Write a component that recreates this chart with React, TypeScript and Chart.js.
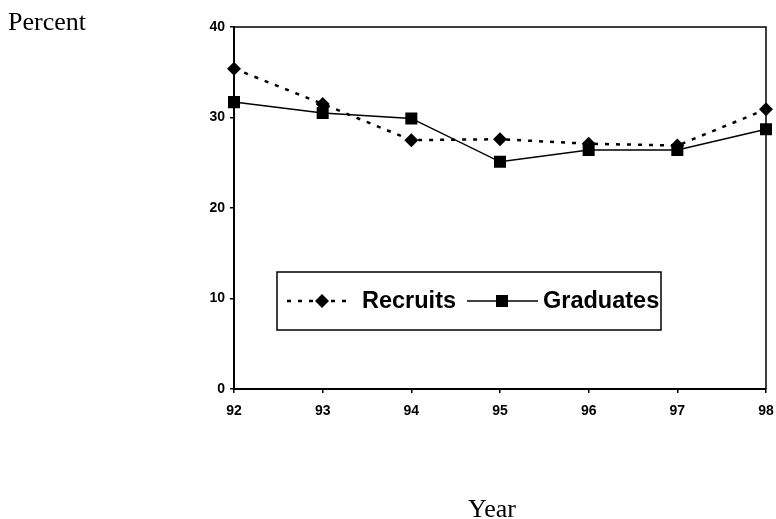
import React, { useEffect, useRef } from "react";
import { Chart, registerables } from "chart.js";

Chart.register(...registerables);

// Share of recruits vs. graduates, by year (percent)
const years = ["92", "93", "94", "95", "96", "97", "98"];
const recruits = [35.4, 31.5, 27.5, 27.6, 27.1, 26.9, 30.9];
const graduates = [31.7, 30.5, 29.9, 25.1, 26.4, 26.4, 28.7];
const yTickValues = [0, 10, 20, 30, 40];

const yAxisTitle = "Percent";
const xAxisTitle = "Year";

const TICK_FONT = { family: "'Liberation Sans', Arial, sans-serif", size: 14, weight: "bold" as const };

// Frame on the top and right sides of the plot area
const framePlugin = {
  id: "frame",
  afterDatasetsDraw(chart: any) {
    const { ctx, chartArea: a } = chart;
    ctx.save();
    ctx.strokeStyle = "#000";
    ctx.lineWidth = 1.5;
    ctx.beginPath();
    ctx.moveTo(a.left, a.top);
    ctx.lineTo(a.right, a.top);
    ctx.lineTo(a.right, a.bottom);
    ctx.stroke();
    ctx.restore();
  },
};

// Boxed legend inside the plot, plus the serif axis titles
const legendPlugin = {
  id: "boxedLegend",
  afterDraw(chart: any) {
    const { ctx } = chart;
    const ds = chart.data.datasets;
    ctx.save();

    // box
    const bx = 277, by = 272, bw = 384, bh = 58;
    ctx.fillStyle = "#fff";
    ctx.fillRect(bx, by, bw, bh);
    ctx.strokeStyle = "#000";
    ctx.lineWidth = 1.5;
    ctx.strokeRect(bx, by, bw, bh);

    const cy = by + bh / 2;
    ctx.font = "bold 23.5px 'Liberation Sans', Arial, sans-serif";
    ctx.textBaseline = "middle";
    ctx.textAlign = "left";
    ctx.fillStyle = "#000";

    // Recruits entry: dotted line + diamond
    const rec = ds.find((d: any) => d.label === "Recruits");
    ctx.strokeStyle = "#000";
    ctx.lineWidth = 2.5;
    ctx.setLineDash(rec.borderDash);
    ctx.beginPath();
    ctx.moveTo(287, cy);
    ctx.lineTo(352, cy);
    ctx.stroke();
    ctx.setLineDash([]);
    ctx.beginPath();
    ctx.moveTo(322, cy - 7);
    ctx.lineTo(329, cy);
    ctx.lineTo(322, cy + 7);
    ctx.lineTo(315, cy);
    ctx.closePath();
    ctx.fill();
    ctx.fillText(rec.label, 362, cy + 1);

    // Graduates entry: solid line + square
    const grad = ds.find((d: any) => d.label === "Graduates");
    ctx.lineWidth = 1.5;
    ctx.beginPath();
    ctx.moveTo(467, cy);
    ctx.lineTo(538, cy);
    ctx.stroke();
    ctx.fillRect(496, cy - 6, 12, 12);
    ctx.fillText(grad.label, 543, cy + 1);

    // axis titles
    ctx.font = "26px 'Liberation Serif', 'Times New Roman', serif";
    ctx.textBaseline = "alphabetic";
    ctx.fillText(yAxisTitle, 8, 30);
    ctx.textAlign = "center";
    ctx.fillText(xAxisTitle, 492, 517);

    ctx.restore();
  },
};

export default function App() {
  const canvasRef = useRef<HTMLCanvasElement | null>(null);

  useEffect(() => {
    const canvas = canvasRef.current;
    if (!canvas) return;
    const chart = new Chart(canvas, {
      type: "line",
      data: {
        labels: years,
        datasets: [
          {
            label: "Recruits",
            data: recruits,
            borderColor: "#000",
            backgroundColor: "#000",
            borderWidth: 2.5,
            borderDash: [4, 7],
            pointStyle: "rectRot",
            pointRadius: 7,
            pointBorderWidth: 0,
            tension: 0,
            order: 1,
          },
          {
            label: "Graduates",
            data: graduates,
            borderColor: "#000",
            backgroundColor: "#000",
            borderWidth: 1.5,
            pointStyle: "rect",
            pointRadius: 8.5,
            pointBorderWidth: 0,
            tension: 0,
            order: 0,
          },
        ],
      },
      options: {
        responsive: false,
        animation: false,
        layout: { padding: { left: 194, top: 27, right: 10, bottom: 100 } },
        plugins: {
          legend: { display: false },
          tooltip: { enabled: false },
          title: { display: false },
        },
        scales: {
          x: {
            type: "category",
            offset: false,
            afterFit: (s: any) => {
              s.height = 30;
              s.paddingLeft = 0;
              s.paddingRight = 0;
            },
            grid: { display: true, drawOnChartArea: false, drawTicks: true, tickLength: 4, color: "#000", lineWidth: 1.5 },
            border: { display: true, color: "#000", width: 2 },
            ticks: { color: "#000", font: TICK_FONT, padding: 10, maxRotation: 0, autoSkip: false },
          },
          y: {
            min: 0,
            max: 40,
            afterFit: (s: any) => {
              s.width = 40;
              s.paddingTop = 0;
              s.paddingBottom = 0;
            },
            afterBuildTicks: (s: any) => { s.ticks = yTickValues.map((v) => ({ value: v })); },
            grid: { display: true, drawOnChartArea: false, drawTicks: true, tickLength: 4, color: "#000", lineWidth: 1.5 },
            border: { display: true, color: "#000", width: 2 },
            ticks: { color: "#000", font: TICK_FONT, padding: 5 },
          },
        },
      },
      plugins: [framePlugin, legendPlugin],
    });
    return () => chart.destroy();
  }, []);

  return (
    <div style={{ position: "fixed", left: 0, top: 0, width: 776, height: 519, background: "#fff" }}>
      <canvas ref={canvasRef} width={776} height={519} style={{ display: "block" }} />
    </div>
  );
}
